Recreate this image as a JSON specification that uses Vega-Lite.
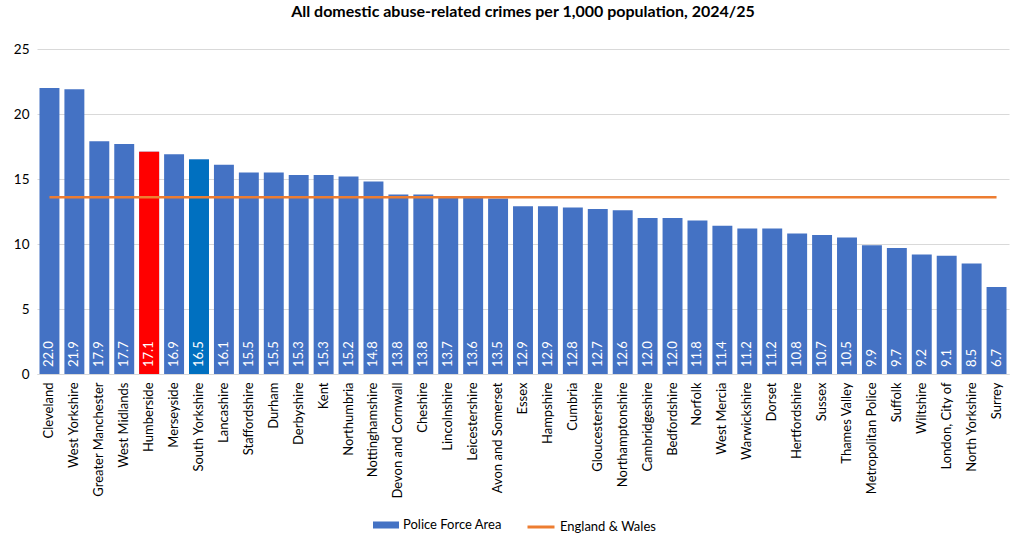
{
  "$schema": "https://vega.github.io/schema/vega-lite/v6.json",
  "width": 972,
  "height": 325,
  "autosize": {"type": "none"},
  "padding": {"left": 37, "top": 49, "right": 16, "bottom": 173},
  "background": "white",
  "config": {
    "font": "Lato",
    "view": {"stroke": null}
  },
  "title": {
    "text": "All domestic abuse-related crimes per 1,000 population, 2024/25",
    "anchor": "middle",
    "fontSize": 16,
    "fontWeight": "bold",
    "color": "#000000",
    "font": "Lato",
    "offset": 22
  },
  "data": {
    "values": [
      {"force": "Cleveland", "rate": 22.0, "ew": 13.6},
      {"force": "West Yorkshire", "rate": 21.9, "ew": 13.6},
      {"force": "Greater Manchester", "rate": 17.9, "ew": 13.6},
      {"force": "West Midlands", "rate": 17.7, "ew": 13.6},
      {"force": "Humberside", "rate": 17.1, "ew": 13.6},
      {"force": "Merseyside", "rate": 16.9, "ew": 13.6},
      {"force": "South Yorkshire", "rate": 16.5, "ew": 13.6},
      {"force": "Lancashire", "rate": 16.1, "ew": 13.6},
      {"force": "Staffordshire", "rate": 15.5, "ew": 13.6},
      {"force": "Durham", "rate": 15.5, "ew": 13.6},
      {"force": "Derbyshire", "rate": 15.3, "ew": 13.6},
      {"force": "Kent", "rate": 15.3, "ew": 13.6},
      {"force": "Northumbria", "rate": 15.2, "ew": 13.6},
      {"force": "Nottinghamshire", "rate": 14.8, "ew": 13.6},
      {"force": "Devon and Cornwall", "rate": 13.8, "ew": 13.6},
      {"force": "Cheshire", "rate": 13.8, "ew": 13.6},
      {"force": "Lincolnshire", "rate": 13.7, "ew": 13.6},
      {"force": "Leicestershire", "rate": 13.6, "ew": 13.6},
      {"force": "Avon and Somerset", "rate": 13.5, "ew": 13.6},
      {"force": "Essex", "rate": 12.9, "ew": 13.6},
      {"force": "Hampshire", "rate": 12.9, "ew": 13.6},
      {"force": "Cumbria", "rate": 12.8, "ew": 13.6},
      {"force": "Gloucestershire", "rate": 12.7, "ew": 13.6},
      {"force": "Northamptonshire", "rate": 12.6, "ew": 13.6},
      {"force": "Cambridgeshire", "rate": 12.0, "ew": 13.6},
      {"force": "Bedfordshire", "rate": 12.0, "ew": 13.6},
      {"force": "Norfolk", "rate": 11.8, "ew": 13.6},
      {"force": "West Mercia", "rate": 11.4, "ew": 13.6},
      {"force": "Warwickshire", "rate": 11.2, "ew": 13.6},
      {"force": "Dorset", "rate": 11.2, "ew": 13.6},
      {"force": "Hertfordshire", "rate": 10.8, "ew": 13.6},
      {"force": "Sussex", "rate": 10.7, "ew": 13.6},
      {"force": "Thames Valley", "rate": 10.5, "ew": 13.6},
      {"force": "Metropolitan Police", "rate": 9.9, "ew": 13.6},
      {"force": "Suffolk", "rate": 9.7, "ew": 13.6},
      {"force": "Wiltshire", "rate": 9.2, "ew": 13.6},
      {"force": "London, City of", "rate": 9.1, "ew": 13.6},
      {"force": "North Yorkshire", "rate": 8.5, "ew": 13.6},
      {"force": "Surrey", "rate": 6.7, "ew": 13.6}
    ]
  },
  "encoding": {
    "x": {
      "field": "force",
      "type": "nominal",
      "sort": null,
      "scale": {"paddingInner": 0.2, "paddingOuter": 0.1},
      "axis": {
        "title": null,
        "labelAngle": 270,
        "labelAlign": "right",
        "labelBaseline": "middle",
        "labelFontSize": 13,
        "labelColor": "#000000",
        "labelPadding": 8,
        "ticks": false,
        "domainColor": "#D9D9D9",
        "domainWidth": 1,
        "labelLimit": 200
      }
    }
  },
  "layer": [
    {
      "mark": {"type": "bar"},
      "encoding": {
        "y": {
          "field": "rate",
          "type": "quantitative",
          "scale": {"domain": [0, 25], "nice": false},
          "axis": {
            "title": null,
            "values": [0, 5, 10, 15, 20, 25],
            "domain": false,
            "ticks": false,
            "gridColor": "#D9D9D9",
            "labelFontSize": 13.5,
            "labelColor": "#000000",
            "labelPadding": 8
          }
        },
        "fill": {
          "datum": "Police Force Area",
          "scale": {"range": ["#4472C4"]},
          "legend": {
            "title": null,
            "orient": "none",
            "legendX": 336,
            "legendY": 463,
            "symbolType": "M-1,-0.27H1V0.27H-1Z",
            "symbolSize": 676,
            "symbolStrokeWidth": 0,
            "labelFontSize": 13,
            "labelColor": "#000000",
            "labelOffset": 4
          }
        }
      }
    },
    {
      "transform": [{"filter": "datum.force === 'Humberside'"}],
      "mark": {"type": "bar", "color": "#FF0000"},
      "encoding": {"y": {"field": "rate", "type": "quantitative"}}
    },
    {
      "transform": [{"filter": "datum.force === 'South Yorkshire'"}],
      "mark": {"type": "bar", "color": "#0070C0"},
      "encoding": {"y": {"field": "rate", "type": "quantitative"}}
    },
    {
      "mark": {"type": "line", "strokeWidth": 2.5},
      "encoding": {
        "y": {"field": "ew", "type": "quantitative"},
        "stroke": {
          "datum": "England & Wales",
          "scale": {"range": ["#ED7D31"]},
          "legend": {
            "title": null,
            "orient": "none",
            "legendX": 489,
            "legendY": 463,
            "symbolType": "stroke",
            "symbolSize": 729,
            "symbolStrokeWidth": 3,
            "labelFontSize": 13,
            "labelColor": "#000000",
            "labelOffset": 4
          }
        }
      }
    },
    {
      "mark": {
        "type": "text",
        "angle": 270,
        "align": "left",
        "baseline": "middle",
        "dx": 7,
        "color": "#FFFFFF",
        "fontSize": 13
      },
      "encoding": {
        "y": {"datum": 0, "type": "quantitative"},
        "text": {"field": "rate", "type": "quantitative", "format": ".1f"}
      }
    }
  ]
}
